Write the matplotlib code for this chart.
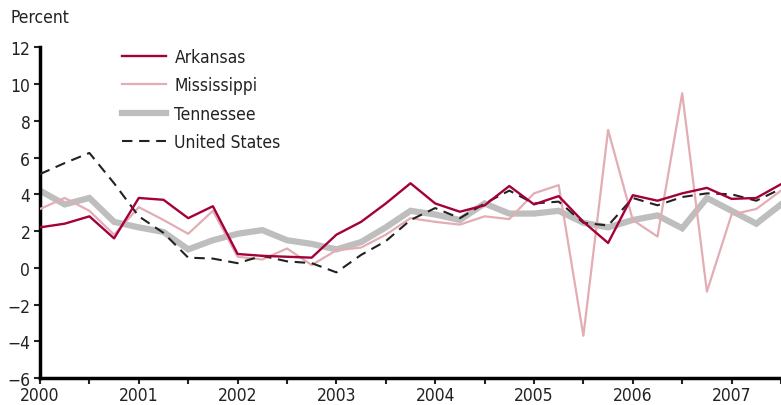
#!/usr/bin/env python3
import numpy as np
import matplotlib
matplotlib.use("Agg")
import matplotlib.pyplot as plt
from matplotlib import font_manager

# narrow face, like the original's condensed sans
names = {f.name for f in font_manager.fontManager.ttflist}
if 'DejaVu Sans Condensed' in names:
    plt.rcParams['font.family'] = ['DejaVu Sans Condensed', 'DejaVu Sans']
else:
    plt.rcParams['font.family'] = ['DejaVu Sans']
    plt.rcParams['font.stretch'] = 'condensed'

# quarterly, 2000Q1 .. 2007Q3
start_year = 2000
n_quarters = 31
years = [2000, 2001, 2002, 2003, 2004, 2005, 2006, 2007]

arkansas = [2.2, 2.4, 2.8, 1.6, 3.8, 3.7, 2.7, 3.35,
            0.75, 0.65, 0.6, 0.55, 1.8, 2.5, 3.5, 4.6,
            3.5, 3.05, 3.4, 4.45, 3.45, 3.9, 2.5, 1.35,
            3.95, 3.65, 4.05, 4.35, 3.75, 3.8, 4.55]
mississippi = [3.2, 3.8, 3.1, 1.8, 3.3, 2.6, 1.85, 3.1,
               0.6, 0.45, 1.05, 0.15, 0.95, 1.1, 1.8, 2.7,
               2.5, 2.35, 2.8, 2.65, 4.05, 4.5, -3.7, 7.5,
               2.6, 1.7, 9.5, -1.3, 2.9, 3.2, 4.2]
tennessee = [4.2, 3.45, 3.8, 2.5, 2.2, 1.95, 1.0, 1.5,
             1.85, 2.05, 1.5, 1.3, 1.0, 1.4, 2.2, 3.1,
             2.9, 2.6, 3.5, 2.95, 2.95, 3.1, 2.45, 2.2,
             2.6, 2.85, 2.15, 3.8, 3.1, 2.4, 3.45]
united_states = [5.1, 5.7, 6.25, 4.6, 2.8, 1.9, 0.55, 0.5,
                 0.25, 0.65, 0.35, 0.25, -0.25, 0.7, 1.45, 2.6,
                 3.25, 2.7, 3.5, 4.2, 3.5, 3.6, 2.45, 2.3,
                 3.8, 3.4, 3.85, 4.05, 4.0, 3.65, 4.3]

t = start_year + np.arange(n_quarters) * 0.25

fig = plt.figure(figsize=(7.81, 4.06), dpi=100)
ax = fig.add_axes([0.0512, 0.0665, 0.9488, 0.8145])

ax.plot(t, arkansas, color='#a5003a', lw=1.7, label='Arkansas', zorder=4)
ax.plot(t, mississippi, color='#e2adb3', lw=1.6, label='Mississippi', zorder=3)
ax.plot(t, tennessee, color='#bebebe', lw=4.5, label='Tennessee', zorder=2,
        solid_joinstyle='miter')
ax.plot(t, united_states, color='#222222', lw=1.5, ls=(0, (5, 3.2)),
        label='United States', zorder=3.5)

ax.set_xlim(2000, 2007.5)
ax.set_ylim(-6, 12)
ax.set_yticks(np.arange(-6, 13, 2))
ax.set_xticks(years)
ax.set_xticks(np.arange(2000.5, 2007.6, 1.0), minor=True)
ax.set_xticklabels([str(y) for y in years])

for s in ['top', 'right']:
    ax.spines[s].set_visible(False)
ax.spines['left'].set_linewidth(2.5)
ax.spines['bottom'].set_linewidth(2.5)
ax.tick_params(axis='both', which='both', direction='out', length=4, width=1.5,
               labelsize=12.5, colors='#222222')
ax.tick_params(axis='x', pad=2)
ax.tick_params(axis='y', pad=3)

fig.text(0.013, 0.955, 'Percent', fontsize=12.5, color='#222222', va='center')

leg = ax.legend(loc='upper left', bbox_to_anchor=(0.09, 1.045), frameon=False,
                handlelength=2.5, handletextpad=0.5, labelspacing=0.6,
                fontsize=12.5)
for txt in leg.get_texts():
    txt.set_color('#222222')

fig.savefig('out.png', dpi=100)
